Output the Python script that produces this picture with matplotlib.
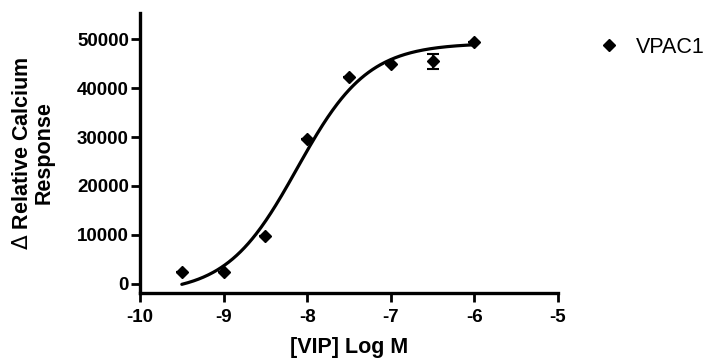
import numpy as np
import matplotlib
matplotlib.use("Agg")
import matplotlib.pyplot as plt

plt.rcParams['font.family'] = ['Liberation Sans', 'DejaVu Sans']

# Data
log_conc = [-9.5, -9.0, -8.5, -8.0, -7.5, -7.0, -6.5, -6.0]
response = [2300, 2300, 9800, 29500, 42200, 45000, 45500, 49400]
errors = [0, 0, 0, 0, 0, 0, 1500, 0]

# Four-parameter logistic fit parameters
fit_bottom = -2000
fit_top = 49200
fit_logec50 = -8.12
fit_hill = 1.03

x_ticks = [-10, -9, -8, -7, -6, -5]
y_ticks = [0, 10000, 20000, 30000, 40000, 50000]

fig = plt.figure(figsize=(7.09, 3.58), dpi=100)
ax = fig.add_axes([0.1975, 0.1816, 0.5895, 0.782])

xc = np.linspace(min(log_conc), max(log_conc), 300)
yc = fit_bottom + (fit_top - fit_bottom) / (1 + 10 ** ((fit_logec50 - xc) * fit_hill))
ax.plot(xc, yc, color='black', lw=2.3, solid_capstyle='round')

ax.errorbar(log_conc, response, yerr=errors, fmt='D', color='black', ms=6.5,
            capsize=4, elinewidth=1.5, capthick=1.5, label='VPAC1', zorder=3)

ax.set_xlim(-10, -5)
ax.set_ylim(-1900, 55360)
ax.set_xticks(x_ticks)
ax.set_yticks(y_ticks)
ax.set_xticklabels([str(t) for t in x_ticks])
ax.set_yticklabels([str(t) for t in y_ticks])

for s in ['top', 'right']:
    ax.spines[s].set_visible(False)
for s in ['left', 'bottom']:
    ax.spines[s].set_linewidth(2.4)
ax.tick_params(direction='out', length=6.5, width=2, labelsize=13.5, pad=1.5)
ax.tick_params(axis='x', pad=5)
for lab in ax.get_xticklabels() + ax.get_yticklabels():
    lab.set_fontweight('bold')

ax.set_xlabel('[VIP] Log M', fontsize=15.5, fontweight='bold', labelpad=8)
ax.set_ylabel('$\\Delta$ Relative Calcium\nResponse', fontsize=15.5, fontweight='bold',
              labelpad=16, linespacing=1.05)

handles, labels = ax.get_legend_handles_labels()
h = handles[0][0] if isinstance(handles[0], tuple) else handles[0]
leg = fig.legend([h], labels,
                 loc='center left', bbox_to_anchor=(0.832, 0.868), frameon=False,
                 fontsize=15.5, handletextpad=0.75, handlelength=1.0, borderaxespad=0)

fig.savefig('out.png', dpi=100)
